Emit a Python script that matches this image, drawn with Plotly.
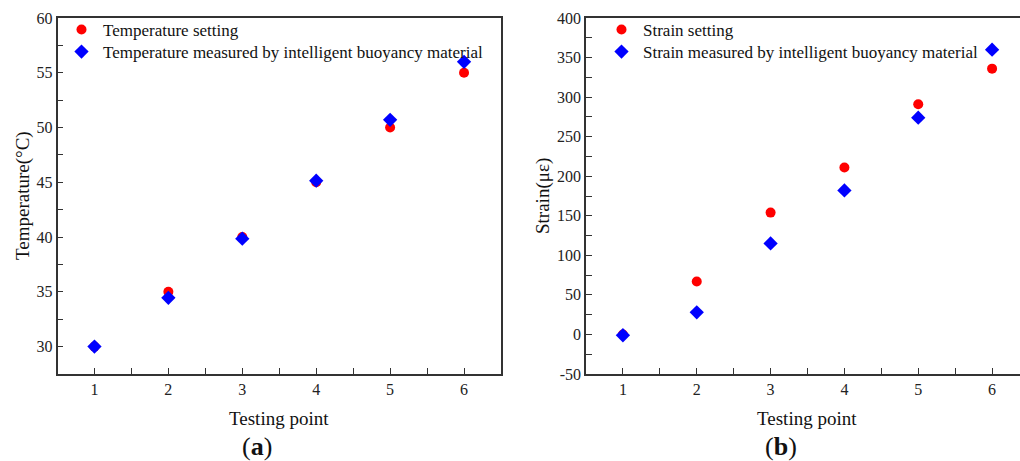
import plotly.graph_objects as go

# ---- data ----
testing_points = [1, 2, 3, 4, 5, 6]
temp_setting = [30, 35, 40, 45, 50, 55]
temp_measured = [30.0, 34.45, 39.85, 45.15, 50.7, 56.0]
strain_setting = [0, 67, 154, 211, 291, 336]
strain_measured = [-1, 28, 115, 182, 274, 360]

temp_ticks = [30, 35, 40, 45, 50, 55, 60]
strain_ticks = [-50, 0, 50, 100, 150, 200, 250, 300, 350, 400]
strain_ticktext = ["-50", "0", "50", "100", "150", "200", "250", "300", "350", "400"]
x_ticks = [1, 2, 3, 4, 5, 6]

W, H = 1020, 461
FONT = "Liberation Serif"
RED = "#ff0000"
BLUE = "#0000ff"
AX = "#333333"

fig = go.Figure()

fig.add_trace(go.Scatter(x=testing_points, y=temp_setting, mode="markers",
                         name="Temperature setting",
                         marker=dict(symbol="circle", size=10, color=RED),
                         xaxis="x", yaxis="y", legend="legend"))
fig.add_trace(go.Scatter(x=testing_points, y=temp_measured, mode="markers",
                         name="Temperature measured by intelligent buoyancy material",
                         marker=dict(symbol="diamond", size=11, color=BLUE),
                         xaxis="x", yaxis="y", legend="legend2"))
fig.add_trace(go.Scatter(x=testing_points, y=strain_setting, mode="markers",
                         name="Strain setting",
                         marker=dict(symbol="circle", size=10, color=RED),
                         xaxis="x2", yaxis="y2", legend="legend3"))
fig.add_trace(go.Scatter(x=testing_points, y=strain_measured, mode="markers",
                         name="Strain measured by intelligent buoyancy material",
                         marker=dict(symbol="diamond", size=11, color=BLUE),
                         xaxis="x2", yaxis="y2", legend="legend4"))

y_dom = [1 - 374 / H, 1 - 18 / H]

common_axis = dict(showline=True, linecolor=AX, linewidth=1.6, ticks="inside",
                   ticklen=6, tickwidth=1.2, tickcolor=AX, showgrid=False,
                   zeroline=False, tickfont=dict(family=FONT, size=16, color="#222222"))
minor = dict(ticks="inside", ticklen=6, tickwidth=1.2, tickcolor=AX, showgrid=False)

leg_common = dict(xanchor="left", yanchor="middle", bgcolor="rgba(0,0,0,0)",
                  font=dict(family=FONT, size=17, color="#111111"),
                  tracegroupgap=0, itemwidth=33)

fig.update_layout(
    width=W, height=H,
    margin=dict(l=0, r=0, t=0, b=0, autoexpand=False),
    paper_bgcolor="white", plot_bgcolor="white",
    font=dict(family=FONT, size=16, color="#111111"),
    showlegend=True,
    xaxis=dict(domain=[57.5 / W, 501 / W], range=[0.5, 6.5], tickvals=x_ticks,
               mirror=True, anchor="y",
               minor=dict(dtick=0.5, **minor), **common_axis),
    yaxis=dict(domain=y_dom, range=[27.5, 60], tickvals=temp_ticks,
               mirror=True, anchor="x",
               minor=dict(dtick=2.5, **minor), **common_axis),
    xaxis2=dict(domain=[586 / W, 1.0], range=[0.5, 6.5 - 9 / 73.9], tickvals=x_ticks,
                mirror=True, anchor="y2",
                minor=dict(dtick=0.5, **minor), **common_axis),
    yaxis2=dict(domain=y_dom, range=[-50, 400], tickvals=strain_ticks,
                ticktext=strain_ticktext,
                mirror=False, anchor="x2",
                minor=dict(dtick=25, **minor), **common_axis),
    legend=dict(x=60 / W, y=1 - 30 / H, **leg_common),
    legend2=dict(x=60 / W, y=1 - 52 / H, **leg_common),
    legend3=dict(x=600 / W, y=1 - 30 / H, **leg_common),
    legend4=dict(x=600 / W, y=1 - 52 / H, **leg_common),
)

annots = [
    dict(text="Testing point", x=279 / W, y=1 - 418 / H, font=dict(size=19)),
    dict(text="Testing point", x=807 / W, y=1 - 418 / H, font=dict(size=19)),
    dict(text="Temperature(°C)", x=23 / W, y=1 - 196 / H, textangle=-90, font=dict(size=19)),
    dict(text="Strain(με)", x=543 / W, y=1 - 196 / H, textangle=-90, font=dict(size=19)),
    dict(text="(<b>a</b>)", x=257 / W, y=1 - 446 / H, font=dict(size=26)),
    dict(text="(<b>b</b>)", x=781 / W, y=1 - 446 / H, font=dict(size=26)),
]
for a in annots:
    fig.add_annotation(xref="paper", yref="paper", showarrow=False,
                       xanchor="center", yanchor="middle", **a)

fig.write_html("out.html")
